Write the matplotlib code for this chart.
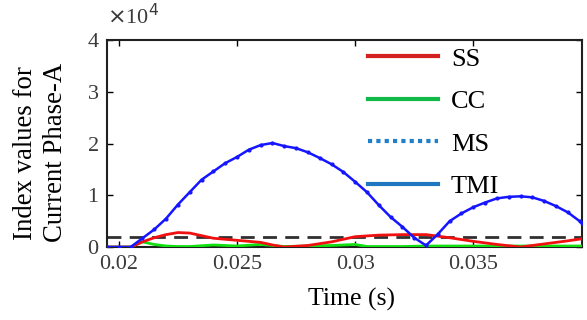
import matplotlib
matplotlib.use("Agg")
import matplotlib.pyplot as plt
from matplotlib.lines import Line2D
import numpy as np

# ---- data (values in units of 1e4) ----
tmi_t = [0.0195, 0.0200, 0.0205, 0.0210, 0.0215, 0.0220, 0.0225, 0.0230, 0.0235, 0.0240,
         0.0245, 0.0250, 0.0255, 0.0260, 0.0265, 0.0270, 0.0275, 0.0280, 0.0285, 0.0290,
         0.0295, 0.0300, 0.0305, 0.0310, 0.0315, 0.0320, 0.0325, 0.0330, 0.0335, 0.0340,
         0.0345, 0.0350, 0.0355, 0.0360, 0.0365, 0.0370, 0.0375, 0.0380, 0.0385, 0.0390,
         0.0395, 0.0396]
tmi_v = [0.0, 0.0, 0.0, 0.17, 0.34, 0.55, 0.82, 1.06, 1.30, 1.46,
         1.62, 1.74, 1.88, 1.97, 2.01, 1.95, 1.91, 1.83, 1.72, 1.60,
         1.45, 1.26, 1.06, 0.81, 0.58, 0.39, 0.18, 0.03, 0.25, 0.50,
         0.65, 0.77, 0.86, 0.94, 0.97, 0.98, 0.96, 0.89, 0.79, 0.67,
         0.50, 0.46]

ss_t = [0.0195, 0.0205, 0.0210, 0.0215, 0.0220, 0.0225, 0.0230, 0.0235, 0.0240, 0.0250,
        0.0260, 0.0265, 0.0270, 0.0280, 0.0290, 0.0300, 0.0310, 0.0320, 0.0330, 0.0340,
        0.0350, 0.0360, 0.0370, 0.0380, 0.0390, 0.0396]
ss_v = [0.0, 0.0, 0.10, 0.18, 0.24, 0.28, 0.27, 0.22, 0.17, 0.13,
        0.09, 0.04, 0.0, 0.03, 0.10, 0.20, 0.23, 0.24, 0.24, 0.18,
        0.11, 0.05, 0.0, 0.06, 0.12, 0.16]

cc_t = [0.0195, 0.0205, 0.0210, 0.0215, 0.0220, 0.0225, 0.0230, 0.0240, 0.0250, 0.0260,
        0.0270, 0.0280, 0.0290, 0.0300, 0.0305, 0.0320, 0.0330, 0.0350, 0.0370, 0.0396]
cc_v = [0.0, 0.0, 0.10, 0.05, 0.02, 0.01, 0.01, 0.04, 0.02, 0.05,
        0.01, 0.02, 0.03, 0.05, 0.01, 0.01, 0.02, 0.02, 0.02, 0.02]

threshold = 0.2  # x1e4

legend_labels = ["SS", "CC", "MS", "TMI"]
x_ticks = [0.02, 0.025, 0.03, 0.035]
x_ticklabels = ["0.02", "0.025", "0.03", "0.035"]
y_ticks = [0, 1, 2, 3, 4]

plt.rcParams['font.family'] = ['Liberation Serif', 'DejaVu Serif']

fig = plt.figure(figsize=(5.87, 3.20), dpi=100)
ax = fig.add_axes([0.1823, 0.228, 0.8092, 0.647])

ax.axhline(threshold, color='#303030', lw=2.0, ls=(0, (5, 3)), zorder=2)
ax.plot(cc_t, cc_v, color='#10e010', lw=2.0, zorder=3)
ax.plot(ss_t, ss_v, color='#f01010', lw=2.0, zorder=4)
ax.plot(tmi_t, tmi_v, color='#1515ff', lw=1.8, marker='.', ms=4, zorder=5, clip_on=True)

ax.set_xlim(0.0195, 0.0396)
ax.set_ylim(0, 4)
ax.set_xticks(x_ticks)
ax.set_xticklabels(x_ticklabels)
ax.set_yticks(y_ticks)
ax.tick_params(direction='in', top=True, right=True, length=4, width=1,
               labelsize=16, labelcolor='#3a3a3a', pad=6)
for s in ax.spines.values():
    s.set_linewidth(1.5)
    s.set_color('#202020')

ax.set_xlabel("Time (s)", fontsize=18.5)
ax.xaxis.set_label_coords(0.514, -0.198)
ax.set_ylabel("Index values for\nCurrent Phase-A", fontsize=19.3, linespacing=1.27)
ax.yaxis.set_label_coords(-0.082, 0.455)

fig.text(0.183, 0.91, r"$\times$10$^4$", fontsize=16, color='#3a3a3a', ha='left', va='bottom')

handles = [
    Line2D([], [], color='#d42020', lw=3),
    Line2D([], [], color='#10b848', lw=3),
    Line2D([], [], color='#1f7fc8', lw=3, ls=(0, (1, 1))),
    Line2D([], [], color='#1f77c0', lw=3),
]
ax.legend(handles, legend_labels, loc='upper left', bbox_to_anchor=(0.51, 1.055),
          frameon=False, fontsize=19, handlelength=2.65, handletextpad=0.5,
          labelspacing=0.72, borderaxespad=0.3)

fig.savefig("out.png", dpi=100)
